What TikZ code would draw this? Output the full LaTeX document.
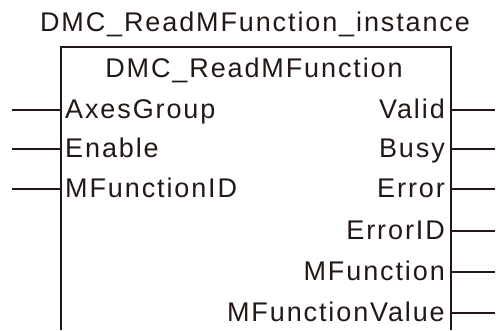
\documentclass[tikz,border=0pt]{standalone}
\usepackage{fontspec}
\setmainfont{Liberation Sans}
\newfontfamily\pinfont[LetterSpace=7]{Liberation Sans}
\usetikzlibrary{positioning}
\definecolor{ink}{HTML}{231815}
\tikzset{
  base/.style={font=\pinfont\fontsize{27}{31}\selectfont, text=ink, inner sep=0pt},
  title/.style={base},
  pinlabel/.style={base},
  wire/.style={draw=ink, line width=1.4pt},
}
\begin{document}
\begin{tikzpicture}[x=1pt,y=-1pt]
  \useasboundingbox (0,0) rectangle (496,330);
  \node[title, anchor=base] (inst) at (255,31) {DMC\_ReadMFunction\_instance};

  % function block outline, open at the bottom
  \coordinate (boxbl) at (61,330);
  \coordinate (boxtl) at (61,47);
  \coordinate (boxtr) at (451,47);
  \coordinate (boxbr) at (451,330);
  \draw[wire] (boxbl) -- (boxtl) -- (boxtr) -- (boxbr);
  \node[base, anchor=base] (fb) at (254,77) {DMC\_ReadMFunction};

  % inputs
  \foreach \name/\label/\y in {axes/AxesGroup/110, enable/Enable/149, mfid/MFunctionID/189} {
    \node[pinlabel, anchor=base west] (\name) at (65,\y+8.5) {\label};
    \coordinate (\name-in) at (61,\y);
    \coordinate (\name-end) at (12,\y);
    \draw[wire] (\name-end) -- (\name-in);
  }

  % outputs
  \foreach \name/\label/\y in {valid/Valid/110, busy/Busy/149, error/Error/189, errid/ErrorID/231, mfunc/MFunction/272, mval/MFunctionValue/313} {
    \node[pinlabel, anchor=base east] (\name) at (445,\y+8.5) {\label};
    \coordinate (\name-out) at (451,\y);
    \coordinate (\name-end) at (495,\y);
    \draw[wire] (\name-out) -- (\name-end);
  }
\end{tikzpicture}
\end{document}
